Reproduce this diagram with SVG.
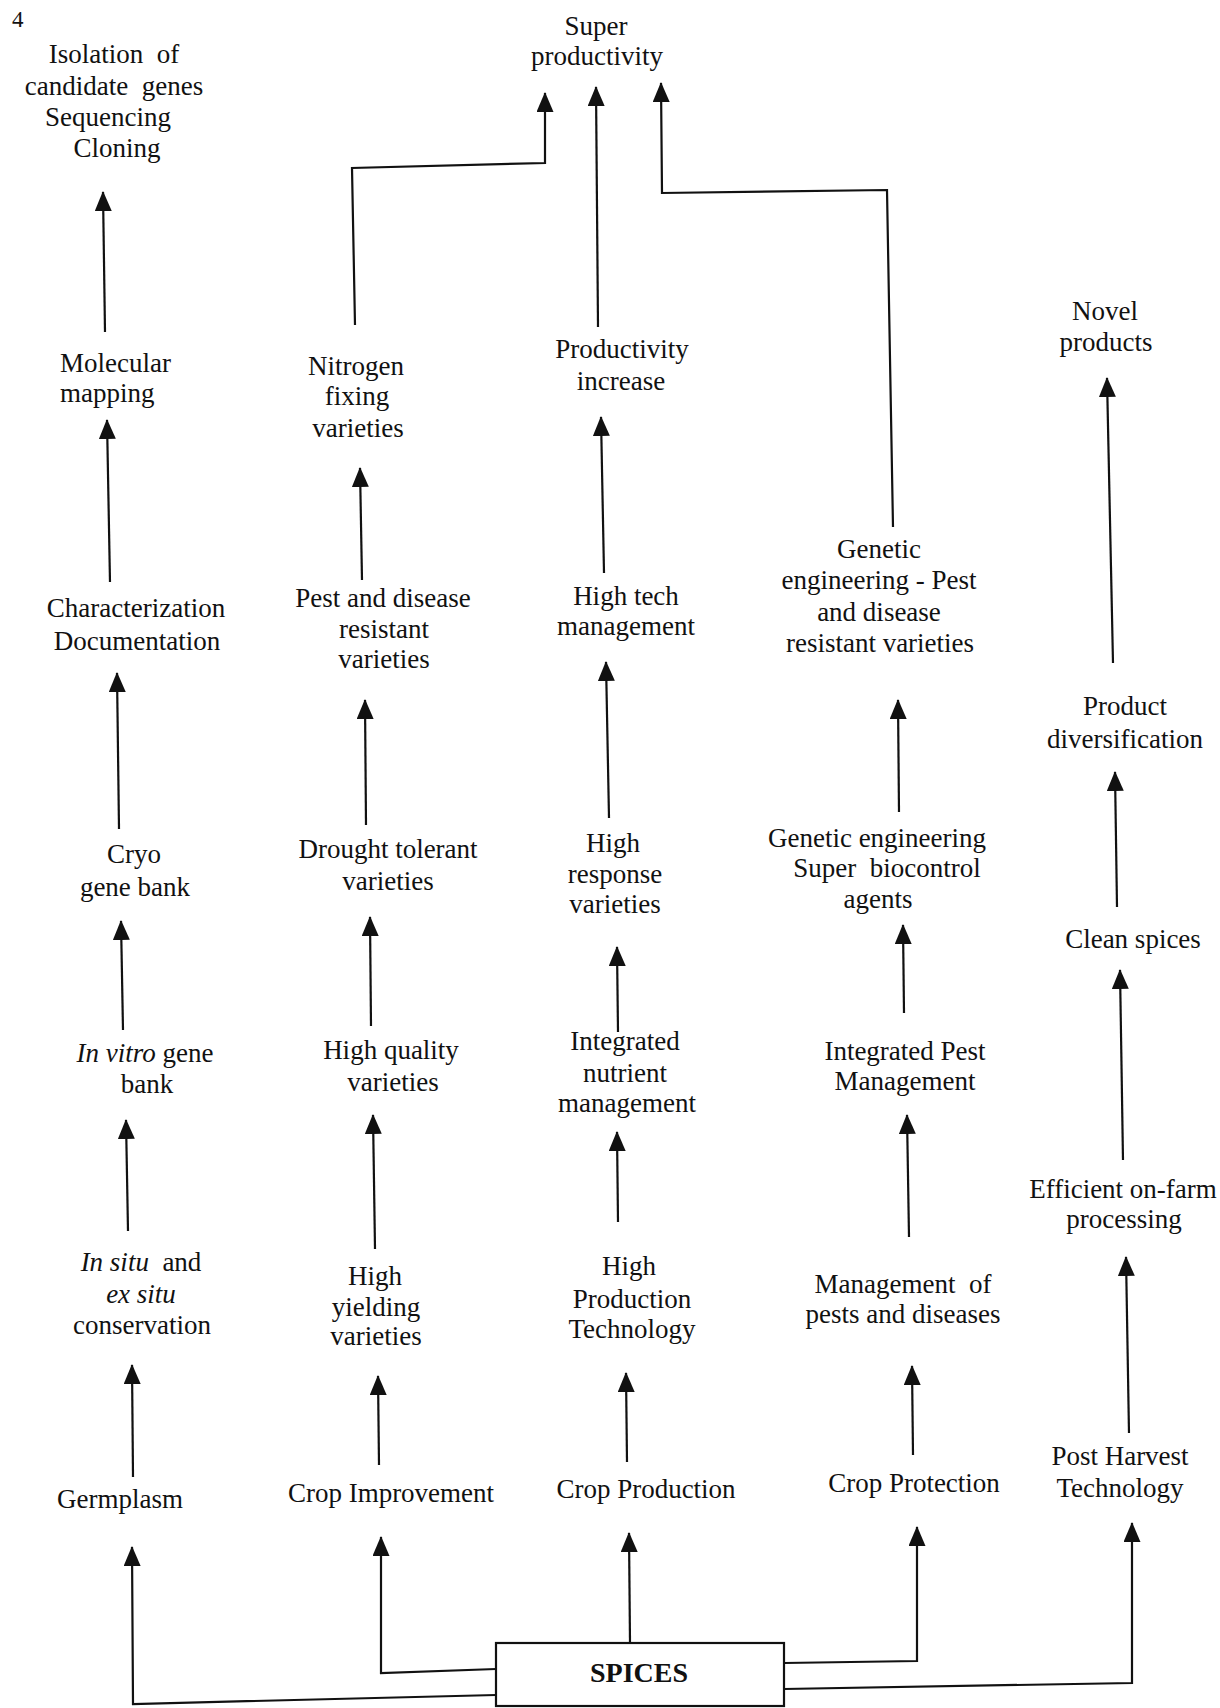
<svg xmlns="http://www.w3.org/2000/svg" width="1220" height="1708" viewBox="0 0 1220 1708">
  <defs>
    <style>
      .t { font-family: "Liberation Serif", "Times New Roman", serif; font-size: 27px; fill: #111; text-anchor: middle; }
      .l { text-anchor: start; }
      .i { font-style: italic; }
      .b { font-weight: bold; font-size: 28px; }
      .c { fill: none; stroke: #111; stroke-width: 2.2; stroke-linejoin: miter; }
      .box { fill: #fff; stroke: #111; stroke-width: 2.2; }
    </style>
    <marker id="ah" viewBox="0 0 20 17" markerWidth="20" markerHeight="17" markerUnits="userSpaceOnUse" refX="19" refY="8.5" orient="auto">
      <path d="M0,0 L20,8.5 L0,17 Z" fill="#111"/>
    </marker>
  </defs>

  <rect width="1220" height="1708" fill="#fff"/>

  <!-- page number -->
  <text class="t l" x="12" y="27" style="font-size:23px">4</text>

  <!-- connectors -->
  <g id="connectors" marker-end="url(#ah)">
    <!-- germplasm column -->
    <polyline class="c" points="105,332 103,192"/>
    <polyline class="c" points="110,582 107,420"/>
    <polyline class="c" points="119,829 117,673"/>
    <polyline class="c" points="123,1030 121,921"/>
    <polyline class="c" points="128,1231 126,1120"/>
    <polyline class="c" points="133,1477 132,1365"/>
    <polyline class="c" points="496,1695 133,1704 132,1547"/>
    <!-- crop improvement column -->
    <polyline class="c" points="355,325 352,168 545,163 545,93"/>
    <polyline class="c" points="362,580 360,468"/>
    <polyline class="c" points="366,825 365,700"/>
    <polyline class="c" points="371,1026 370,917"/>
    <polyline class="c" points="375,1249 373,1115"/>
    <polyline class="c" points="379,1465 378,1376"/>
    <polyline class="c" points="496,1669 381,1673 381,1537"/>
    <!-- crop production column -->
    <polyline class="c" points="598,327 596,87"/>
    <polyline class="c" points="604,573 601,417"/>
    <polyline class="c" points="609,818 606,662"/>
    <polyline class="c" points="618,1032 617,947"/>
    <polyline class="c" points="618,1222 617,1132"/>
    <polyline class="c" points="627,1462 626,1373"/>
    <polyline class="c" points="630,1643 629,1533"/>
    <!-- crop protection column -->
    <polyline class="c" points="893,527 887,190 662,193 661,83"/>
    <polyline class="c" points="899,812 898,700"/>
    <polyline class="c" points="904,1013 903,925"/>
    <polyline class="c" points="909,1237 907,1115"/>
    <polyline class="c" points="913,1455 912,1366"/>
    <polyline class="c" points="784,1663 917,1661 917,1527"/>
    <!-- post harvest column -->
    <polyline class="c" points="1113,663 1107,378"/>
    <polyline class="c" points="1117,907 1115,772"/>
    <polyline class="c" points="1123,1160 1120,970"/>
    <polyline class="c" points="1129,1433 1126,1257"/>
    <polyline class="c" points="784,1689 1132,1683 1132,1523"/>
  </g>

  <!-- nodes -->
  <g id="isolation">
    <text class="t"><tspan x="114" y="63">Isolation&#160; of</tspan><tspan x="114" y="95">candidate&#160; genes</tspan><tspan x="108" y="126">Sequencing</tspan><tspan x="117" y="157">Cloning</tspan></text>
  </g>
  <g id="super-productivity">
    <text class="t"><tspan x="596" y="35">Super</tspan><tspan x="597" y="65">productivity</tspan></text>
  </g>
  <g id="molecular-mapping">
    <text class="t l"><tspan x="60" y="372">Molecular</tspan><tspan x="60" y="402">mapping</tspan></text>
  </g>
  <g id="nitrogen-fixing">
    <text class="t"><tspan x="356" y="375">Nitrogen</tspan><tspan x="357" y="405">fixing</tspan><tspan x="358" y="437">varieties</tspan></text>
  </g>
  <g id="productivity-increase">
    <text class="t"><tspan x="622" y="358">Productivity</tspan><tspan x="621" y="390">increase</tspan></text>
  </g>
  <g id="ge-pest-resistant">
    <text class="t"><tspan x="879" y="558">Genetic</tspan><tspan x="879" y="589">engineering - Pest</tspan><tspan x="879" y="621">and disease</tspan><tspan x="880" y="652">resistant varieties</tspan></text>
  </g>
  <g id="novel-products">
    <text class="t"><tspan x="1105" y="320">Novel</tspan><tspan x="1106" y="351">products</tspan></text>
  </g>
  <g id="characterization">
    <text class="t"><tspan x="136" y="617">Characterization</tspan><tspan x="137" y="650">Documentation</tspan></text>
  </g>
  <g id="pest-disease-resistant">
    <text class="t"><tspan x="383" y="607">Pest and disease</tspan><tspan x="384" y="638">resistant</tspan><tspan x="384" y="668">varieties</tspan></text>
  </g>
  <g id="high-tech-management">
    <text class="t"><tspan x="626" y="605">High tech</tspan><tspan x="626" y="635">management</tspan></text>
  </g>
  <g id="product-diversification">
    <text class="t"><tspan x="1125" y="715">Product</tspan><tspan x="1125" y="748">diversification</tspan></text>
  </g>
  <g id="cryo-gene-bank">
    <text class="t"><tspan x="134" y="863">Cryo</tspan><tspan x="135" y="896">gene bank</tspan></text>
  </g>
  <g id="drought-tolerant">
    <text class="t"><tspan x="388" y="858">Drought tolerant</tspan><tspan x="388" y="890">varieties</tspan></text>
  </g>
  <g id="high-response">
    <text class="t"><tspan x="613" y="852">High</tspan><tspan x="615" y="883">response</tspan><tspan x="615" y="913">varieties</tspan></text>
  </g>
  <g id="ge-biocontrol">
    <text class="t"><tspan x="877" y="847">Genetic engineering</tspan><tspan x="887" y="877">Super&#160; biocontrol</tspan><tspan x="878" y="908">agents</tspan></text>
  </g>
  <g id="clean-spices">
    <text class="t" x="1133" y="948">Clean spices</text>
  </g>
  <g id="in-vitro-gene-bank">
    <text class="t"><tspan x="145" y="1062"><tspan class="i">In vitro</tspan> gene</tspan><tspan x="147" y="1093">bank</tspan></text>
  </g>
  <g id="high-quality">
    <text class="t"><tspan x="391" y="1059">High quality</tspan><tspan x="393" y="1091">varieties</tspan></text>
  </g>
  <g id="integrated-nutrient">
    <text class="t"><tspan x="625" y="1050">Integrated</tspan><tspan x="625" y="1082">nutrient</tspan><tspan x="627" y="1112">management</tspan></text>
  </g>
  <g id="integrated-pest">
    <text class="t"><tspan x="905" y="1060">Integrated Pest</tspan><tspan x="905" y="1090">Management</tspan></text>
  </g>
  <g id="on-farm-processing">
    <text class="t"><tspan x="1123" y="1198">Efficient on-farm</tspan><tspan x="1124" y="1228">processing</tspan></text>
  </g>
  <g id="conservation">
    <text class="t"><tspan x="141" y="1271"><tspan class="i">In situ</tspan>&#160; and</tspan><tspan class="i" x="141" y="1303">ex situ</tspan><tspan x="142" y="1334">conservation</tspan></text>
  </g>
  <g id="high-yielding">
    <text class="t"><tspan x="375" y="1285">High</tspan><tspan x="376" y="1316">yielding</tspan><tspan x="376" y="1345">varieties</tspan></text>
  </g>
  <g id="high-production-technology">
    <text class="t"><tspan x="629" y="1275">High</tspan><tspan x="632" y="1308">Production</tspan><tspan x="632" y="1338">Technology</tspan></text>
  </g>
  <g id="pest-management">
    <text class="t"><tspan x="903" y="1293">Management&#160; of</tspan><tspan x="903" y="1323">pests and diseases</tspan></text>
  </g>
  <g id="germplasm">
    <text class="t" x="120" y="1508">Germplasm</text>
  </g>
  <g id="crop-improvement">
    <text class="t" x="391" y="1502">Crop Improvement</text>
  </g>
  <g id="crop-production">
    <text class="t" x="646" y="1498">Crop Production</text>
  </g>
  <g id="crop-protection">
    <text class="t" x="914" y="1492">Crop Protection</text>
  </g>
  <g id="post-harvest">
    <text class="t"><tspan x="1120" y="1465">Post Harvest</tspan><tspan x="1120" y="1497">Technology</tspan></text>
  </g>
  <g id="spices">
    <rect class="box" x="496" y="1643" width="288" height="63"/>
    <text class="t b" x="639" y="1682">SPICES</text>
  </g>
</svg>
